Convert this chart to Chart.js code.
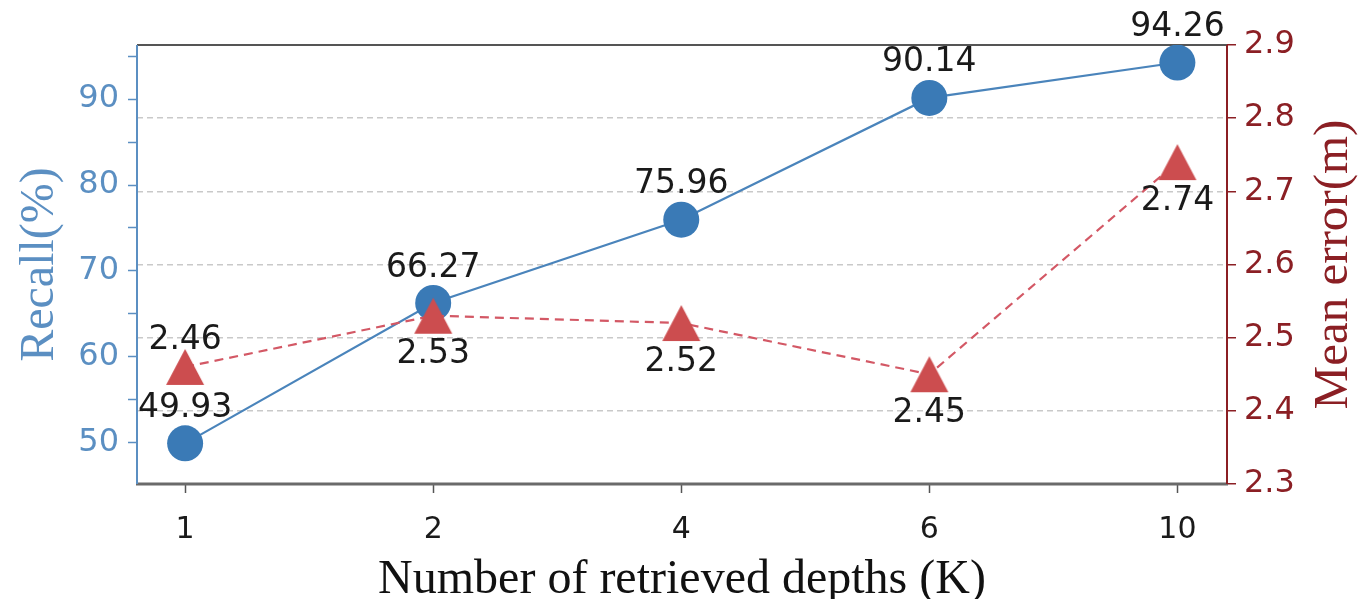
<!DOCTYPE html>
<html>
<head>
<meta charset="utf-8">
<script src="https://cdn.jsdelivr.net/npm/chart.js@4.4.0/dist/chart.umd.min.js"></script>
<style>
    html, body { margin: 0; padding: 0; background: #fff; }
    #wrap { width: 1358px; height: 599px; }
</style>
</head>
<body>
<div id="wrap"><canvas id="grafico" width="1358" height="599"></canvas></div>
<script>
// data
const depths = ['1', '2', '4', '6', '10'];
const recall = [49.93, 66.27, 75.96, 90.14, 94.26];
const meanError = [2.46, 2.53, 2.52, 2.45, 2.74];

const recallTicks = [50, 55, 60, 65, 70, 75, 80, 85, 90, 95];
const recallLabels = [50, 60, 70, 80, 90];
const errorTicks = [2.3, 2.35, 2.4, 2.45, 2.5, 2.55, 2.6, 2.65, 2.7, 2.75, 2.8, 2.85, 2.9];
const errorLabels = ['2.3', '2.4', '2.5', '2.6', '2.7', '2.8', '2.9'];

const BLUE = '#3a7ab6';
const BLUE_AXIS = '#5b8fc2';
const RED = '#cc4d4f';
const RED_AXIS = '#8b1f24';

function isLabel(v, list) {
    for (var i = 0; i < list.length; i++) {
        if (Math.abs(parseFloat(list[i]) - v) < 1e-6) return true;
    }
    return false;
}

// matplotlib style '^' marker: centred on its bounding box
function triangulo(w, h, color) {
    var c = document.createElement('canvas');
    c.width = w + 2;
    c.height = h + 2;
    var g = c.getContext('2d');
    g.fillStyle = color;
    g.beginPath();
    g.moveTo(1, h + 1);
    g.lineTo(w + 1, h + 1);
    g.lineTo(w / 2 + 1, 1);
    g.closePath();
    g.fill();
    return c;
}

var extras = {
    id: 'extras',
    beforeDatasetsDraw: function (chart) {
        var ctx = chart.ctx, a = chart.chartArea;
        ctx.save();
        ctx.lineWidth = 2;
        ctx.strokeStyle = '#555';
        ctx.beginPath(); ctx.moveTo(a.left, a.top); ctx.lineTo(a.right, a.top); ctx.stroke();
        ctx.lineWidth = 3;
        ctx.strokeStyle = '#6a6a6a';
        ctx.beginPath(); ctx.moveTo(a.left - 1, a.bottom); ctx.lineTo(a.right + 1, a.bottom); ctx.stroke();
        ctx.lineWidth = 2;
        ctx.strokeStyle = BLUE_AXIS;
        ctx.beginPath(); ctx.moveTo(a.left, a.top); ctx.lineTo(a.left, a.bottom); ctx.stroke();
        ctx.strokeStyle = RED_AXIS;
        ctx.beginPath(); ctx.moveTo(a.right, a.top); ctx.lineTo(a.right, a.bottom); ctx.stroke();
        ctx.restore();
    },
    afterDatasetsDraw: function (chart) {
        var ctx = chart.ctx;
        ctx.save();
        ctx.font = '33px "DejaVu Sans"';
        ctx.fillStyle = '#1a1a1a';
        ctx.textAlign = 'center';
        ctx.textBaseline = 'middle';
        var mRec = chart.getDatasetMeta(1);
        mRec.data.forEach(function (p, i) {
            ctx.fillText(recall[i].toFixed(2), p.x, p.y - 35);
        });
        var mErr = chart.getDatasetMeta(0);
        mErr.data.forEach(function (p, i) {
            var dy = i === 0 ? -27 : 39;
            ctx.fillText(meanError[i].toFixed(2), p.x, p.y + dy);
        });
        ctx.restore();
    },
    afterDraw: function (chart) {
        var ctx = chart.ctx, a = chart.chartArea;
        ctx.save();
        ctx.font = '48px "Liberation Serif"';
        ctx.textAlign = 'center';
        ctx.textBaseline = 'alphabetic';
        ctx.fillStyle = '#111';
        ctx.fillText('Number of retrieved depths (K)', (a.left + a.right) / 2, 593);

        ctx.save();
        ctx.translate(53, (a.top + a.bottom) / 2);
        ctx.rotate(-Math.PI / 2);
        ctx.fillStyle = BLUE_AXIS;
        ctx.fillText('Recall(%)', 0, 0);
        ctx.restore();

        ctx.save();
        ctx.translate(1347, (a.top + a.bottom) / 2);
        ctx.rotate(-Math.PI / 2);
        ctx.font = '49px "Liberation Serif"';
        ctx.fillStyle = RED_AXIS;
        ctx.fillText('Mean error(m)', 0, 0);
        ctx.restore();
        ctx.restore();
    }
};

var puntos = function (arr) {
    return arr.map(function (v, i) { return { x: i, y: v }; });
};

var tri = triangulo(38, 36, RED);

new Chart(document.getElementById('grafico'), {
    type: 'line',
    data: {
        datasets: [
            {
                label: 'Mean error',
                data: puntos(meanError),
                yAxisID: 'y2',
                order: 1,
                borderColor: '#d35865',
                borderWidth: 2.2,
                borderDash: [9, 6],
                backgroundColor: RED,
                pointStyle: tri,
                pointRadius: 19,
                pointBorderWidth: 0,
                tension: 0
            },
            {
                label: 'Recall',
                data: puntos(recall),
                yAxisID: 'y',
                order: 2,
                borderColor: '#4a84bb',
                borderWidth: 2.2,
                backgroundColor: BLUE,
                pointStyle: 'circle',
                pointRadius: 18,
                pointBorderWidth: 0,
                pointBackgroundColor: BLUE,
                tension: 0
            }
        ]
    },
    options: {
        responsive: false,
        animation: false,
        devicePixelRatio: 1,
        layout: { padding: { top: 45, left: 0, right: 0, bottom: 0 } },
        plugins: { legend: { display: false }, tooltip: { enabled: false } },
        scales: {
            x: {
                type: 'linear',
                min: -0.194,
                max: 4.2,
                afterBuildTicks: function (axis) {
                    axis.ticks = depths.map(function (d, i) { return { value: i }; });
                },
                afterFit: function (scale) { scale.height = 115; },
                border: { display: false },
                grid: { drawOnChartArea: false, tickLength: 9, tickColor: '#555', tickWidth: 1.5 },
                ticks: {
                    padding: 19,
                    color: '#1a1a1a',
                    font: { family: 'DejaVu Sans', size: 30 },
                    callback: function (v) { return depths[v]; }
                }
            },
            y: {
                position: 'left',
                min: 45.2,
                max: 96.3,
                afterBuildTicks: function (axis) {
                    axis.ticks = recallTicks.map(function (v) { return { value: v }; });
                },
                afterFit: function (scale) { scale.width = 137; },
                border: { display: false },
                grid: { drawOnChartArea: false, tickLength: 9, tickColor: BLUE_AXIS, tickWidth: 1.5 },
                ticks: {
                    padding: 9,
                    color: BLUE_AXIS,
                    font: { family: 'DejaVu Sans', size: 32 },
                    callback: function (v) { return recallLabels.indexOf(v) >= 0 ? String(v) : ''; }
                }
            },
            y2: {
                position: 'right',
                min: 2.3,
                max: 2.9,
                afterBuildTicks: function (axis) {
                    axis.ticks = errorTicks.map(function (v) { return { value: v }; });
                },
                afterFit: function (scale) { scale.width = 131; },
                border: { display: false, dash: [6, 4] },
                grid: {
                    drawOnChartArea: true,
                    lineWidth: 1.5,
                    color: function (c) {
                        var v = c.tick ? c.tick.value : 0;
                        if (v < 2.31 || v > 2.89) return 'rgba(0,0,0,0)';
                        return isLabel(v, errorLabels) ? '#c9c9c9' : 'rgba(0,0,0,0)';
                    },
                    tickLength: 9,
                    tickColor: RED_AXIS,
                    tickWidth: 1.5
                },
                ticks: {
                    padding: 8,
                    color: RED_AXIS,
                    font: { family: 'DejaVu Sans', size: 32 },
                    callback: function (v) { return isLabel(v, errorLabels) ? v.toFixed(1) : ''; }
                }
            }
        }
    },
    plugins: [extras]
});
</script>
</body>
</html>
